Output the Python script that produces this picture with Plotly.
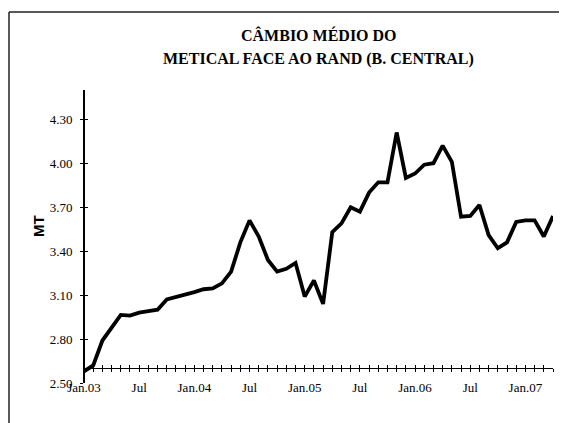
import plotly.graph_objects as go

month_names = ["Jan", "Fev", "Mar", "Abr", "Mai", "Jun", "Jul", "Ago", "Set", "Out", "Nov", "Dez"]
years = ["03", "04", "05", "06", "07"]
months = [f"{m}.{y}" for y in years for m in month_names][:52]

rate = [2.58, 2.62, 2.79, 2.88, 2.965, 2.96, 2.98, 2.99, 3.00, 3.07, 3.085, 3.105,
        3.12, 3.14, 3.145, 3.18, 3.26, 3.46, 3.61, 3.50, 3.34, 3.26, 3.28, 3.32,
        3.09, 3.20, 3.04, 3.53, 3.59, 3.70, 3.67, 3.80, 3.87, 3.87, 4.21, 3.90,
        3.93, 3.99, 4.00, 4.12, 4.01, 3.635, 3.64, 3.715, 3.51, 3.42, 3.46, 3.60,
        3.61, 3.61, 3.50, 3.64]

tick_text = [m if m.startswith("Jan") else ("Jul" if m.startswith("Jul") else "") for m in months]
y_ticks = [2.5, 2.8, 3.1, 3.4, 3.7, 4.0, 4.3]
y_range = [2.5, 4.5]
x_cross = 2.6

title_1 = "CÂMBIO MÉDIO DO"
title_2 = "METICAL FACE AO RAND (B. CENTRAL)"
y_title = "MT"

serif = "Liberation Serif, Times New Roman, serif"
sans = "Liberation Sans, Arial, sans-serif"

fig = go.Figure()
fig.add_trace(go.Scatter(x=months, y=rate, mode="lines",
                         line=dict(color="black", width=3.8), showlegend=False,
                         hoverinfo="skip"))
fig.add_trace(go.Scatter(x=months, y=rate, mode="lines", xaxis="x2", yaxis="y2",
                         line=dict(color="rgba(0,0,0,0)", width=0), showlegend=False,
                         hoverinfo="skip"))

pos = (x_cross - y_range[0]) / (y_range[1] - y_range[0])

common_x = dict(type="category", categoryorder="array", categoryarray=months,
                range=[0, len(months) - 1], tickmode="array", tickvals=months,
                showgrid=False, zeroline=False, showline=True, linecolor="black",
                linewidth=1, tickcolor="black", tickwidth=1, ticklen=3,
                anchor="free", position=pos)
common_y = dict(range=y_range, tickmode="array", tickvals=y_ticks,
                showgrid=False, zeroline=False, showline=True, linecolor="black",
                linewidth=1, tickcolor="black", tickwidth=1, ticklen=3)

fig.update_layout(
    width=559, height=415,
    margin=dict(l=76, r=14, t=82, b=40),
    paper_bgcolor="white", plot_bgcolor="white",
    xaxis=dict(**common_x, ticks="outside", ticktext=tick_text,
               tickfont=dict(family=serif, size=13, color="black"),
               ticklabelstandoff=4),
    xaxis2=dict(**common_x, overlaying="x", ticks="inside", showticklabels=False),
    yaxis=dict(**common_y, ticks="outside", tickformat=".2f",
               tickfont=dict(family=serif, size=13, color="black"),
               ticklabelstandoff=5),
    yaxis2=dict(**common_y, overlaying="y", anchor="free", position=0,
                ticks="inside", showticklabels=False),
)

fig.add_annotation(text=f"<b>{title_1}</b>", xref="paper", yref="paper",
                   x=0.5, y=(383 - 35) / 293, showarrow=False,
                   xanchor="center", yanchor="middle",
                   font=dict(family=serif, size=16, color="black"))
fig.add_annotation(text=f"<b>{title_2}</b>", xref="paper", yref="paper",
                   x=0.5, y=(383 - 59) / 293, showarrow=False,
                   xanchor="center", yanchor="middle",
                   font=dict(family=serif, size=16, color="black"))
fig.add_annotation(text=f"<b>{y_title}</b>", xref="paper", yref="paper",
                   x=(38 - 84) / 469, y=(383 - 226) / 293, showarrow=False,
                   textangle=-90, xanchor="center", yanchor="middle",
                   font=dict(family=sans, size=15, color="black"))

fx0 = (9 - 84) / 469
fy1 = (383 - 12) / 293
frame = dict(color="#222222", width=1.5)
fig.add_shape(type="line", xref="paper", yref="paper",
              x0=fx0, x1=fx0, y0=-0.3, y1=fy1, line=frame, layer="below")
fig.add_shape(type="line", xref="paper", yref="paper",
              x0=fx0, x1=1.1, y0=fy1, y1=fy1, line=frame, layer="below")

fig.write_html("out.html")
